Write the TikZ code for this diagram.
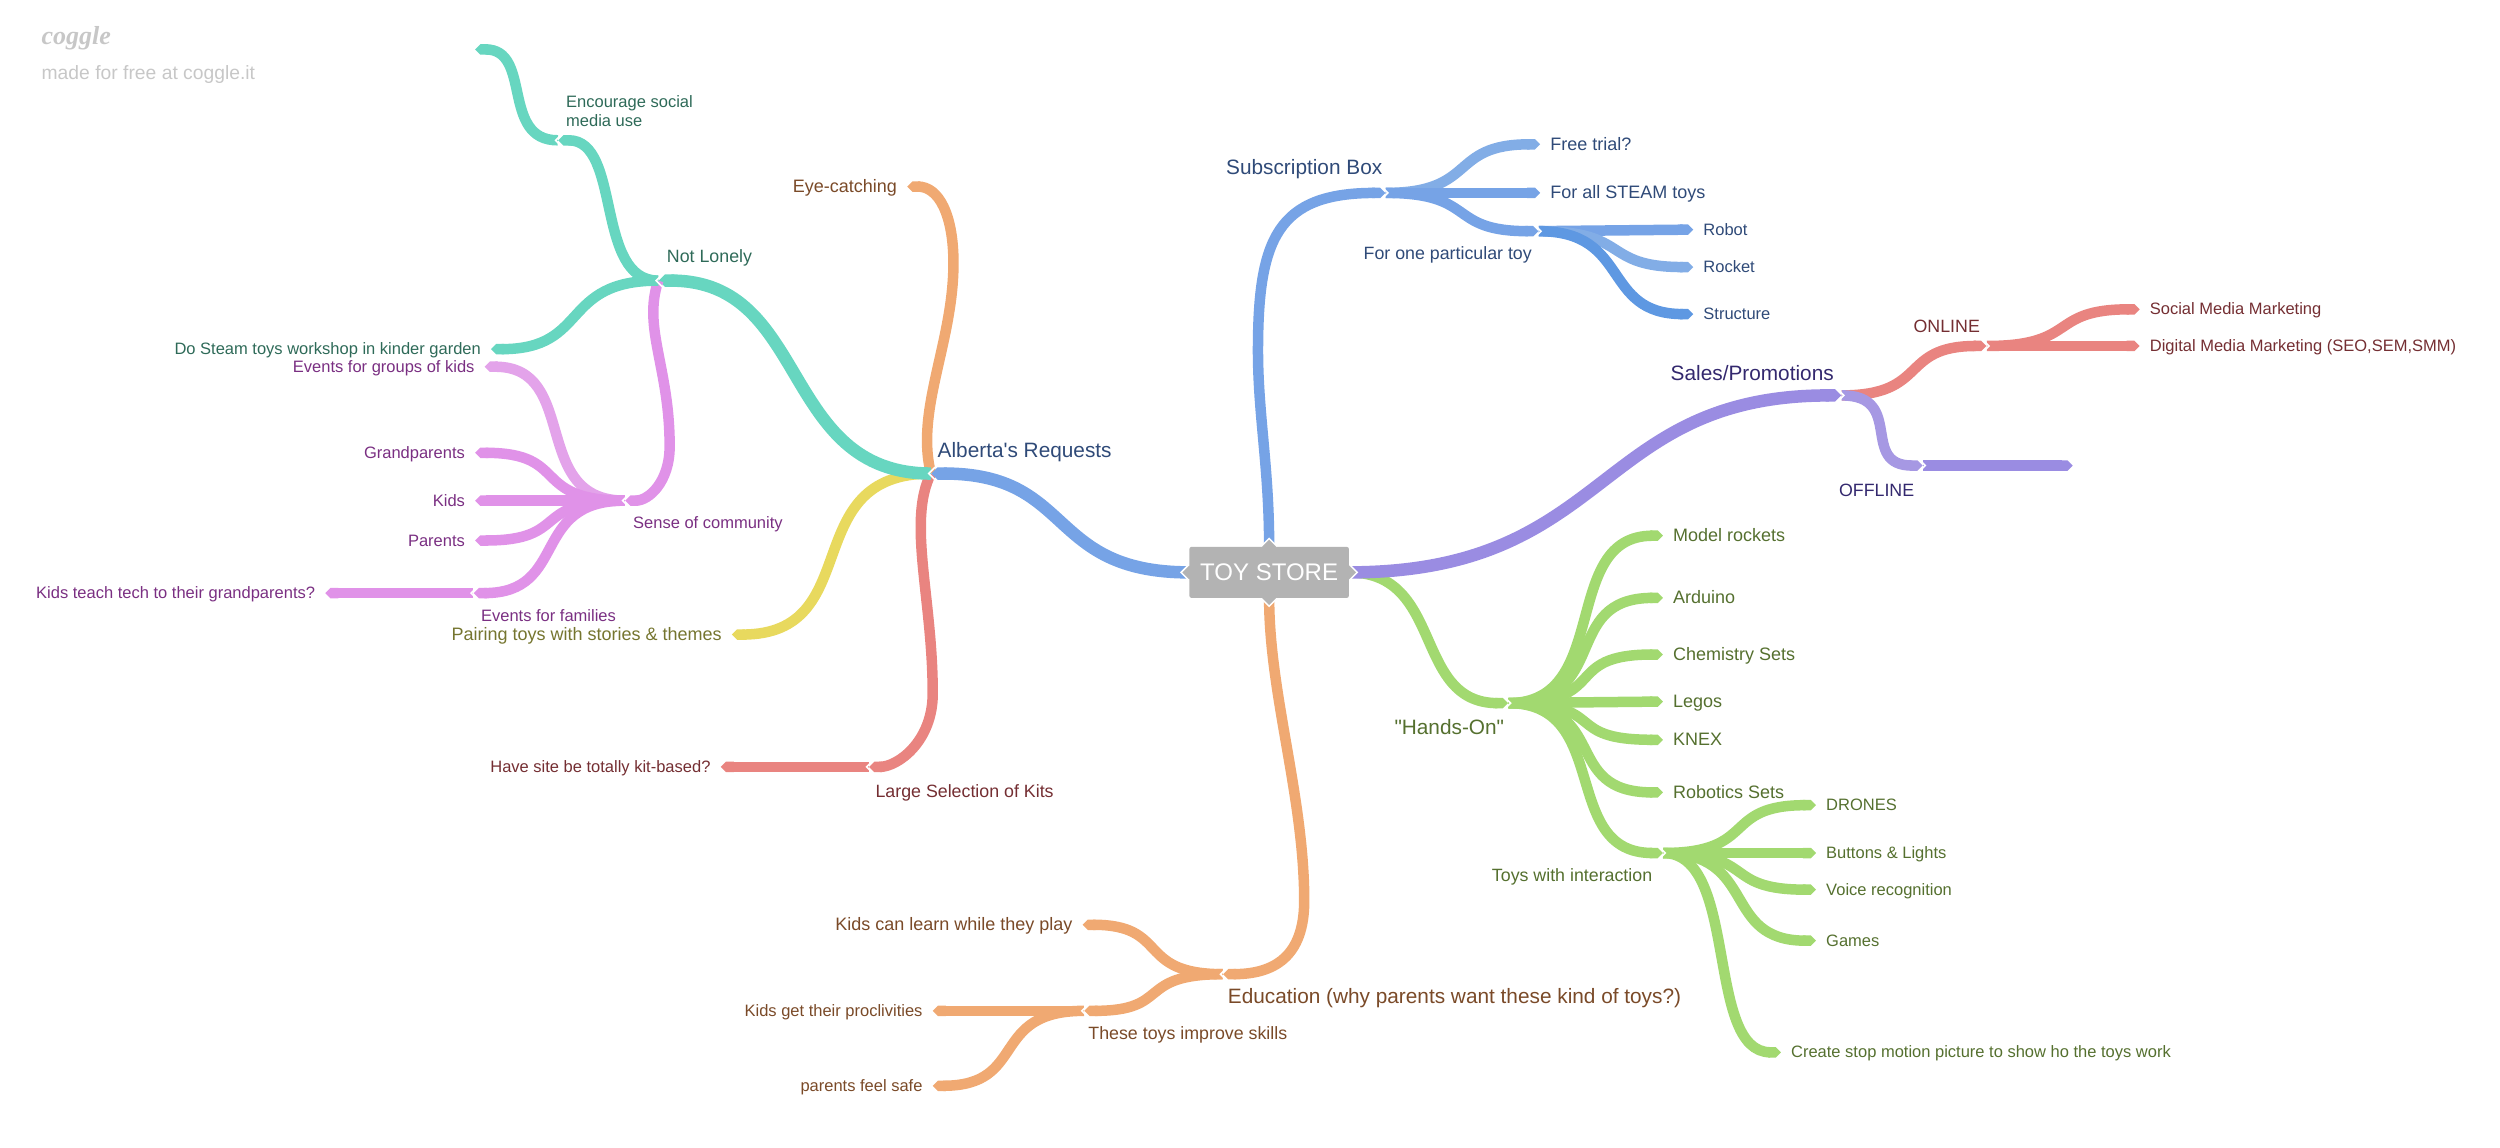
\documentclass[tikz,border=0pt]{standalone}
\usepackage{fontspec}
\setmainfont{Liberation Sans}[Ligatures=TeXOff]
\newfontfamily\logofont{Liberation Serif}
\usetikzlibrary{arrows.meta,backgrounds,shapes.geometric}
\definecolor{lineBlue}{HTML}{76A3E6}
\definecolor{lineBlueL}{HTML}{82ADE6}
\definecolor{lineBlueD}{HTML}{5E98E2}
\definecolor{lineTeal}{HTML}{67D6C0}
\definecolor{lineOrange}{HTML}{F0A972}
\definecolor{linePurple}{HTML}{9A8CE2}
\definecolor{linePurpleL}{HTML}{A698E3}
\definecolor{lineGreen}{HTML}{A2D970}
\definecolor{linePink}{HTML}{E092E8}
\definecolor{linePinkL}{HTML}{E3A3EA}
\definecolor{lineYellow}{HTML}{E8D95E}
\definecolor{lineRed}{HTML}{E98480}
\definecolor{textBlue}{HTML}{2F4A78}
\definecolor{textTeal}{HTML}{2E6A58}
\definecolor{textOrange}{HTML}{7A4A28}
\definecolor{textPurple}{HTML}{33286E}
\definecolor{textGreen}{HTML}{55702F}
\definecolor{textPink}{HTML}{7A2F82}
\definecolor{textYellow}{HTML}{75752F}
\definecolor{textRed}{HTML}{742E32}
\definecolor{rootGrey}{HTML}{B3B3B3}
\tikzset{
    branch/.style={draw=#1,line width=10.5pt,-{Triangle Cap[]}},
    mainbranch/.style={branch=#1,line width=12.5pt},
    junction/.style={circle,inner sep=0pt,minimum size=0pt},
    notch/.style={draw=white,line width=1.6pt},
    leaf/.style={text=#1,font=\fontsize{18}{20}\selectfont,inner xsep=10pt,inner ysep=0pt,text height=14pt,text depth=2pt},
    subleaf/.style={leaf=#1,font=\fontsize{16.5}{19}\selectfont,text height=13.5pt,text depth=2.5pt},
    tag/.style={text=#1,font=\fontsize{17.8}{19}\selectfont,inner sep=0pt},
    subtag/.style={tag=#1,font=\fontsize{16.5}{19}\selectfont},
    bigtag/.style={text=#1,font=\fontsize{20.8}{24}\selectfont,inner sep=0pt},
    rootbox/.style={fill=rootGrey,text=white,font=\fontsize{24}{28}\selectfont,minimum width=159.4pt,minimum height=51pt,rounded corners=2pt},
    roottip/.style={diamond,fill=rootGrey,draw=white,line width=1.5pt,inner sep=0pt,minimum size=17pt},
}
\begin{document}
\begin{tikzpicture}[x=1.5944pt,y=-1.5944pt]
    \useasboundingbox (0,0) rectangle (1568,720);
    \node[rootbox] (root) at (796,359) {TOY STORE};
    \node[junction] (alberta) at (584,297) {};
    \node[junction] (subbox) at (869,121) {};
    \node[junction] (oneToy) at (965,145) {};
    \node[junction] (sales) at (1155,248) {};
    \node[junction] (online) at (1246,217) {};
    \node[junction] (offline) at (1206,292) {};
    \node[junction] (handsOn) at (946,441) {};
    \node[junction] (interact) at (1043,535) {};
    \node[junction] (education) at (767,611) {};
    \node[junction] (skills) at (680,634) {};
    \node[junction] (kitsBig) at (545,481) {};
    \node[junction] (lonely) at (413,176) {};
    \node[junction] (encourage) at (350,88) {};
    \node[junction] (community) at (392,314) {};
    \node[junction] (families) at (297,372) {};
    \coordinate (offEnd) at (1300,292);
    \coordinate (encEnd) at (298,31);
    \coordinate (subBend) at (789,220);
    \coordinate (eduBend) at (818,565);
    \coordinate (eyeBend) at (598,165);
    \coordinate (kitBend) at (585,435);
    \coordinate (senseBend) at (420,280);

    \node[bigtag=textBlue,anchor=west] (albertaText) at (588,283.5) {Alberta's Requests};
    \node[bigtag=textBlue] (subText) at (818,106) {Subscription Box};
    \node[bigtag=textPurple] (salesText) at (1099,234) {Sales/Promotions};
    \node[bigtag=textGreen] (handsText) at (909,456) {"Hands-On"};
    \node[bigtag=textOrange,anchor=west] (eduText) at (770,626) {Education (why parents want these kind of toys?)};
    \node[tag=textBlue] (oneText) at (908,160) {For one particular toy};
    \node[tag=textRed] (onlineText) at (1221,204.5) {ONLINE};
    \node[tag=textPurple] (offlineText) at (1177,307.5) {OFFLINE};
    \node[tag=textGreen] (interText) at (986,550) {Toys with interaction};
    \node[tag=textOrange] (skillsText) at (745,649) {These toys improve skills};
    \node[tag=textRed] (kitsText) at (605,497) {Large Selection of Kits};
    \node[tag=textTeal] (lonelyText) at (445,162) {Not Lonely};
    \node[subtag=textTeal,anchor=west,align=left] (encText) at (355,69.5) {Encourage social\\media use};
    \node[subtag=textPink] (senseText) at (444,329) {Sense of community};
    \node[subtag=textPink] (famText) at (344,386) {Events for families};

    \node[leaf=textBlue,anchor=west] (freeTrial) at (966,90.5) {Free trial?};
    \node[leaf=textBlue,anchor=west] (allSteam) at (966,121) {For all STEAM toys};
    \node[subleaf=textBlue,anchor=west] (robot) at (1062,144) {Robot};
    \node[subleaf=textBlue,anchor=west] (rocket) at (1062,167.5) {Rocket};
    \node[subleaf=textBlue,anchor=west] (structure) at (1062,197) {Structure};
    \node[subleaf=textRed,anchor=west] (socialMkt) at (1342,194) {Social Media Marketing};
    \node[subleaf=textRed,anchor=west] (digitalMkt) at (1342,217) {Digital Media Marketing (SEO,SEM,SMM)};
    \node[leaf=textGreen,anchor=west] (modelRockets) at (1043,336) {Model rockets};
    \node[leaf=textGreen,anchor=west] (arduino) at (1043,375) {Arduino};
    \node[leaf=textGreen,anchor=west] (chemistry) at (1043,410.5) {Chemistry Sets};
    \node[leaf=textGreen,anchor=west] (legos) at (1043,440) {Legos};
    \node[leaf=textGreen,anchor=west] (knex) at (1043,464) {KNEX};
    \node[leaf=textGreen,anchor=west] (robotics) at (1043,497) {Robotics Sets};
    \node[subleaf=textGreen,anchor=west] (drones) at (1139,505) {DRONES};
    \node[subleaf=textGreen,anchor=west] (buttons) at (1139,535) {Buttons \& Lights};
    \node[subleaf=textGreen,anchor=west] (voice) at (1139,558) {Voice recognition};
    \node[subleaf=textGreen,anchor=west] (games) at (1139,590) {Games};
    \node[subleaf=textGreen,anchor=west] (stopMotion) at (1117,660) {Create stop motion picture to show ho the toys work};
    \node[leaf=textOrange,anchor=east] (learnPlay) at (679,580) {Kids can learn while they play};
    \node[subleaf=textOrange,anchor=east] (proclivities) at (585,634) {Kids get their proclivities};
    \node[subleaf=textOrange,anchor=east] (feelSafe) at (585,681) {parents feel safe};
    \node[leaf=textOrange,anchor=east] (eyeCatch) at (569,117) {Eye-catching};
    \node[leaf=textYellow,anchor=east] (pairing) at (459,398) {Pairing toys with stories \& themes};
    \node[subleaf=textRed,anchor=east] (kitBased) at (452,481) {Have site be totally kit-based?};
    \node[subleaf=textTeal,anchor=east] (workshop) at (308,219) {Do Steam toys workshop in kinder garden};
    \node[subleaf=textPink,anchor=east] (groupKids) at (304,230) {Events for groups of kids};
    \node[subleaf=textPink,anchor=east] (grandparents) at (298,284) {Grandparents};
    \node[subleaf=textPink,anchor=east] (kids) at (298,314) {Kids};
    \node[subleaf=textPink,anchor=east] (parents) at (298,339) {Parents};
    \node[subleaf=textPink,anchor=east] (teachTech) at (204,372) {Kids teach tech to their grandparents?};

    \node[text=black!22,font=\logofont\itshape\bfseries\fontsize{26}{28}\selectfont,anchor=west,inner sep=0pt] (logo) at (26,24) {coggle};
    \node[text=black!22,font=\fontsize{19.3}{22}\selectfont,anchor=west,inner sep=0pt] (madeFor) at (26,46.5) {made for free at coggle.it};

    \begin{scope}[on background layer]
        \draw[branch=lineOrange] (alberta.west) .. controls +(-10,-40) and +(0,50) .. (eyeBend) .. controls +(0,-30) and +(20,0) .. (eyeCatch.east);
        \draw[branch=lineYellow] (alberta.west) .. controls +(-85,0) and +(85,0) .. (pairing.east);
        \draw[branch=lineRed] (alberta.west) .. controls +(-15,30) and +(0,-60) .. (kitBend) .. controls +(0,30) and +(18,0) .. (kitsBig.east);
        \draw[branch=lineRed] (kitsBig.west) -- (kitBased.east);
        \draw[mainbranch=lineTeal] (alberta.west) .. controls +(-95,0) and +(95,0) .. (lonely.east);
        \draw[branch=linePink] (lonely.west) .. controls +(-10,30) and +(0,-50) .. (senseBend) .. controls +(0,22) and +(15,0) .. (community.east);
        \draw[branch=lineTeal] (lonely.west) .. controls +(-40,0) and +(40,0) .. (encourage.east);
        \draw[branch=lineTeal] (lonely.west) .. controls +(-62,0) and +(62,0) .. (workshop.east);
        \draw[branch=lineTeal] (encourage.west) .. controls +(-36,0) and +(36,0) .. (encEnd);
        \draw[branch=linePinkL] (community.west) .. controls +(-60,0) and +(60,0) .. (groupKids.east);
        \draw[branch=linePink] (community.west) .. controls +(-60,0) and +(60,0) .. (grandparents.east);
        \draw[branch=linePink] (community.west) -- (kids.east);
        \draw[branch=linePink] (community.west) .. controls +(-60,0) and +(60,0) .. (parents.east);
        \draw[branch=linePink] (community.west) .. controls +(-60,0) and +(60,0) .. (families.east);
        \draw[branch=linePink] (families.west) -- (teachTech.east);
        \draw[mainbranch=lineBlue] (root.west) .. controls +(-90,0) and +(90,0) .. (alberta.east);
        \draw[branch=lineBlue] (root.north) .. controls +(0,-50) and +(0,40) .. (subBend) .. controls +(0,-70) and +(-68,0) .. (subbox.west);
        \draw[branch=lineBlueL] (subbox.east) .. controls +(58,0) and +(-58,0) .. (freeTrial.west);
        \draw[branch=lineBlue] (subbox.east) -- (allSteam.west);
        \draw[branch=lineBlue] (subbox.east) .. controls +(58,0) and +(-58,0) .. (oneToy.west);
        \draw[branch=lineBlue] (oneToy.east) -- (robot.west);
        \draw[branch=lineBlueL] (oneToy.east) .. controls +(58,0) and +(-58,0) .. (rocket.west);
        \draw[branch=lineBlueD] (oneToy.east) .. controls +(58,0) and +(-58,0) .. (structure.west);
        \draw[branch=lineGreen] (root.east) .. controls +(60,0) and +(-60,0) .. (handsOn.west);
        \draw[mainbranch=linePurple] (root.east) .. controls +(165,0) and +(-155,0) .. (sales.west);
        \draw[branch=lineRed] (sales.east) .. controls +(55,0) and +(-55,0) .. (online.west);
        \draw[branch=linePurpleL] (sales.east) .. controls +(40,0) and +(-40,0) .. (offline.west);
        \draw[branch=linePurple] (offline.east) -- (offEnd);
        \draw[branch=lineRed] (online.east) .. controls +(58,0) and +(-58,0) .. (socialMkt.west);
        \draw[branch=lineRed] (online.east) -- (digitalMkt.west);
        \foreach \leafnode in {modelRockets,arduino,chemistry,knex,robotics,interact}
            \draw[branch=lineGreen] (handsOn.east) .. controls +(65,0) and +(-65,0) .. (\leafnode.west);
        \draw[branch=lineGreen] (handsOn.east) -- (legos.west);
        \foreach \leafnode in {drones,voice,games}
            \draw[branch=lineGreen] (interact.east) .. controls +(60,0) and +(-60,0) .. (\leafnode.west);
        \draw[branch=lineGreen] (interact.east) -- (buttons.west);
        \draw[branch=lineGreen] (interact.east) .. controls +(48,0) and +(-48,0) .. (stopMotion.west);
        \draw[branch=lineOrange] (root.south) .. controls +(0,60) and +(0,-65) .. (eduBend) .. controls +(0,35) and +(32,0) .. (education.east);
        \draw[branch=lineOrange] (education.west) .. controls +(-55,0) and +(55,0) .. (learnPlay.east);
        \draw[branch=lineOrange] (education.west) .. controls +(-55,0) and +(55,0) .. (skills.east);
        \draw[branch=lineOrange] (skills.west) -- (proclivities.east);
        \draw[branch=lineOrange] (skills.west) .. controls +(-60,0) and +(60,0) .. (feelSafe.east);
        \foreach \jname/\way in {subbox/1,oneToy/1,sales/1,online/1,offline/1,handsOn/1,interact/1,alberta/-1,education/-1,skills/-1,kitsBig/-1,lonely/-1,encourage/-1,community/-1,families/-1}
            \draw[notch] ([shift={(-2.5*\way,-4)}]\jname.center) -- ([shift={(1.5*\way,0)}]\jname.center) -- ([shift={(-2.5*\way,4)}]\jname.center);
        \foreach \side in {north,south,east,west}
            \node[roottip] (tip\side) at (root.\side) {};
    \end{scope}
\end{tikzpicture}
\end{document}
